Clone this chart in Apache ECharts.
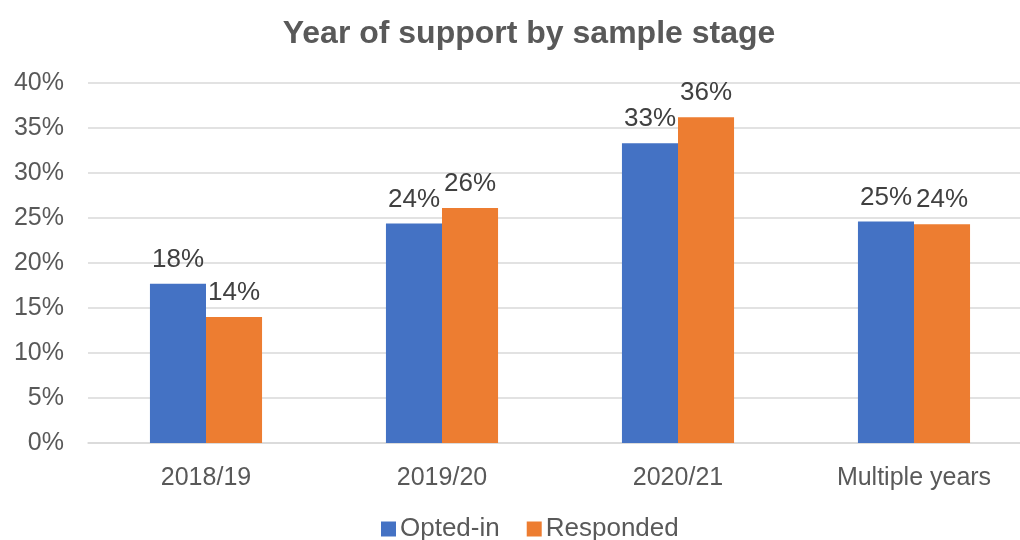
<!DOCTYPE html>
<html>
<head>
<meta charset="utf-8">
<script src="https://cdn.jsdelivr.net/npm/echarts@6/dist/echarts.min.js"></script>
<style>
  html, body { margin: 0; padding: 0; background: #ffffff; }
  #chart { width: 1020px; height: 540px; }
</style>
</head>
<body>
<div id="chart"></div>
<script>
// Share of respondents by year of support, at each sample stage (percent)
const categories = ['2018/19', '2019/20', '2020/21', 'Multiple years'];
const optedIn = [17.7, 24.4, 33.3, 24.6];
const responded = [14.0, 26.1, 36.2, 24.3];
const seriesNames = ['Opted-in', 'Responded'];

const FONT = '"Liberation Sans", Arial, sans-serif';
const pct = v => Math.round(v) + '%';

const chart = echarts.init(document.getElementById('chart'), null, { renderer: 'canvas' });

const labelStyle = {
  show: true,
  position: 'top',
  distance: 11,
  formatter: p => pct(p.value),
  color: '#404040',
  fontSize: 26,
  fontFamily: FONT
};

chart.setOption({
  animation: false,
  backgroundColor: '#ffffff',
  title: {
    text: 'Year of support by sample stage',
    left: 524,
    textAlign: 'center',
    top: 13,
    textStyle: { color: '#595959', fontSize: 32, fontWeight: 'bold', fontFamily: FONT }
  },
  legend: {
    data: seriesNames,
    bottom: -7,
    left: 376,
    itemWidth: 15,
    itemHeight: 15,
    itemGap: 27,
    icon: 'rect',
    textStyle: { color: '#595959', fontSize: 26, fontFamily: FONT, padding: [0, 0, 0, -1] }
  },
  // the plot runs a little past the right edge of the canvas
  grid: { left: 88, width: 944, top: 83, bottom: 97, containLabel: false, outerBoundsMode: 'none' },
  xAxis: {
    type: 'category',
    data: categories,
    axisLine: { lineStyle: { color: '#d9d9d9', width: 1.5 } },
    axisTick: { show: false },
    axisLabel: { color: '#595959', fontSize: 25, fontFamily: FONT, margin: 23 }
  },
  yAxis: {
    type: 'value',
    min: 0,
    max: 40,
    interval: 5,
    axisLine: { show: false },
    axisTick: { show: false },
    splitLine: { lineStyle: { color: '#d9d9d9', width: 1.5 } },
    axisLabel: { color: '#595959', fontSize: 25, fontFamily: FONT, margin: 24, formatter: v => v + '%' }
  },
  series: [
    {
      name: seriesNames[0],
      type: 'bar',
      data: optedIn,
      itemStyle: { color: '#4472c4' },
      barGap: '0%',
      barCategoryGap: '52.5%',
      label: labelStyle
    },
    {
      name: seriesNames[1],
      type: 'bar',
      data: responded,
      itemStyle: { color: '#ed7d31' },
      barGap: '0%',
      barCategoryGap: '52.5%',
      label: labelStyle
    }
  ]
});
</script>
</body>
</html>
